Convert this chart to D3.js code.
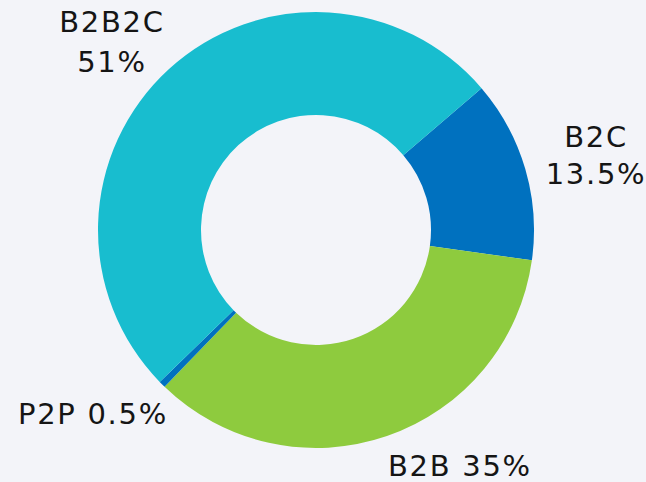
<!DOCTYPE html>
<html>
<head>
<meta charset="utf-8">
<script src="https://cdn.jsdelivr.net/npm/d3@7"></script>
<style>
  html, body { margin: 0; padding: 0; background: #f3f4f9; }
  svg { display: block; }
</style>
</head>
<body>
<div id="chart"></div>
<script>
// chart data
var categories = ['B2C', 'B2B', 'P2P', 'B2B2C']
var shares = [13.5, 35, 0.5, 51]
var shareLabels = ['13.5%', '35%', '0.5%', '51%']
var colors = ['#0071bf', '#8ecb3e', '#0071bf', '#18bdcf']

var width = 646
var height = 482
var cx = 316, cy = 230
var outerR = 218, innerR = 115

var svg = d3.select('#chart')
    .append('svg')
    .attr('width', width)
    .attr('height', height)

svg.append('rect')
    .attr('width', width)
    .attr('height', height)
    .attr('fill', '#f3f4f9')

var pie = d3.pie()
    .sort(null)
    .value(function (d) { return d.value })
    .startAngle(49.4 * Math.PI / 180)
    .endAngle((49.4 + 360) * Math.PI / 180)

var data = categories.map(function (c, i) {
    return { key: c, value: shares[i], label: shareLabels[i], color: colors[i] }
})

var arc = d3.arc()
    .innerRadius(innerR)
    .outerRadius(outerR)

var g = svg.append('g')
    .attr('transform', 'translate(' + cx + ',' + cy + ')')

g.selectAll('path')
    .data(pie(data))
    .enter()
    .append('path')
    .attr('d', arc)
    .attr('fill', function (d) { return d.data.color })

// label placement (hand placed like the original)
var labelPos = {
    'B2C':   { x: 596, y: 147, dy: 37, twoLine: true, anchor: 'middle' },
    'B2B':   { x: 388, y: 476, twoLine: false, anchor: 'start' },
    'P2P':   { x: 18,  y: 424, twoLine: false, anchor: 'start' },
    'B2B2C': { x: 112, y: 32,  dy: 40, twoLine: true, anchor: 'middle' }
}

var labels = svg.append('g')
    .attr('font-family', 'DejaVu Sans, sans-serif')
    .attr('font-size', 29)
    .attr('letter-spacing', 1.7)
    .attr('fill', '#151515')

data.forEach(function (d) {
    var p = labelPos[d.key]
    var t = labels.append('text')
        .attr('x', p.x)
        .attr('y', p.y)
        .attr('text-anchor', p.anchor)
    if (p.twoLine) {
        t.append('tspan').attr('x', p.x).text(d.key)
        t.append('tspan').attr('x', p.x).attr('dy', p.dy).text(d.label)
    } else {
        t.text(d.key + ' ' + d.label)
    }
})
</script>
</body>
</html>
